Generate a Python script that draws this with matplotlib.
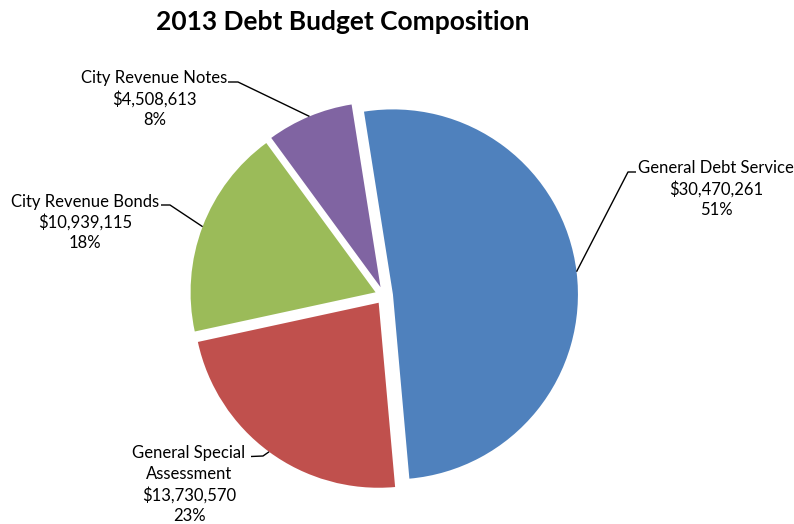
import numpy as np
import matplotlib
matplotlib.use("Agg")
import matplotlib.pyplot as plt

# ---- data ----
title = "2013 Debt Budget Composition"
categories = ["General Debt Service", "General Special\nAssessment",
              "City Revenue Bonds", "City Revenue Notes"]
values = [30470261, 13730570, 10939115, 4508613]
colors = ["#4F81BD", "#C0504D", "#9BBB59", "#8064A2"]

# ---- layout (pixel space, y measured from top) ----
W, H = 794, 524
center_img = (384, 295.5)
radius = 185
explode_px = 9
start_angle = 99

# label block centers and leader elbow/end points (image coords)
label_pos = [(716, 189), (189, 484.5), (85, 222.5), (154.5, 99)]
elbows = [((628, 172), (636, 172)),
          ((263, 456), (251, 456.5)),
          ((170, 205), (161, 205)),
          ((238, 82), (228, 82))]

fig = plt.figure(figsize=(W / 100, H / 100), dpi=100)
ax = fig.add_axes([0, 0, 1, 1])

def up(y):
    return H - y

cx, cy = center_img[0], up(center_img[1])
wedges, _ = ax.pie(values, colors=colors, startangle=start_angle,
                   counterclock=False, radius=radius, center=(cx, cy),
                   explode=[explode_px] * len(values),
                   wedgeprops=dict(linewidth=0), frame=True)
ax.set_xlim(0, W)
ax.set_ylim(0, H)
ax.set_aspect("equal")
ax.axis("off")

total = sum(values)
font = "Lato"
for w, cat, val, (lx, ly), (elb, end) in zip(wedges, categories, values,
                                              label_pos, elbows):
    mid = np.deg2rad((w.theta1 + w.theta2) / 2)
    rr = radius + explode_px
    px, py = cx + rr * np.cos(mid), cy + rr * np.sin(mid)
    ax.plot([px, elb[0], end[0]], [py, up(elb[1]), up(end[1])],
            color="black", lw=1.0, solid_capstyle="butt")
    pct = round(val / total * 100)
    txt = f"{cat}\n${val:,}\n{pct}%"
    ax.text(lx, up(ly), txt, ha="center", va="center", fontsize=12,
            family=font, linespacing=1.33, color="black")

ax.text(342.5, up(22), title, ha="center", va="center", fontsize=19,
        fontweight="bold", family=font, color="black")

fig.savefig("out.png", dpi=100)
